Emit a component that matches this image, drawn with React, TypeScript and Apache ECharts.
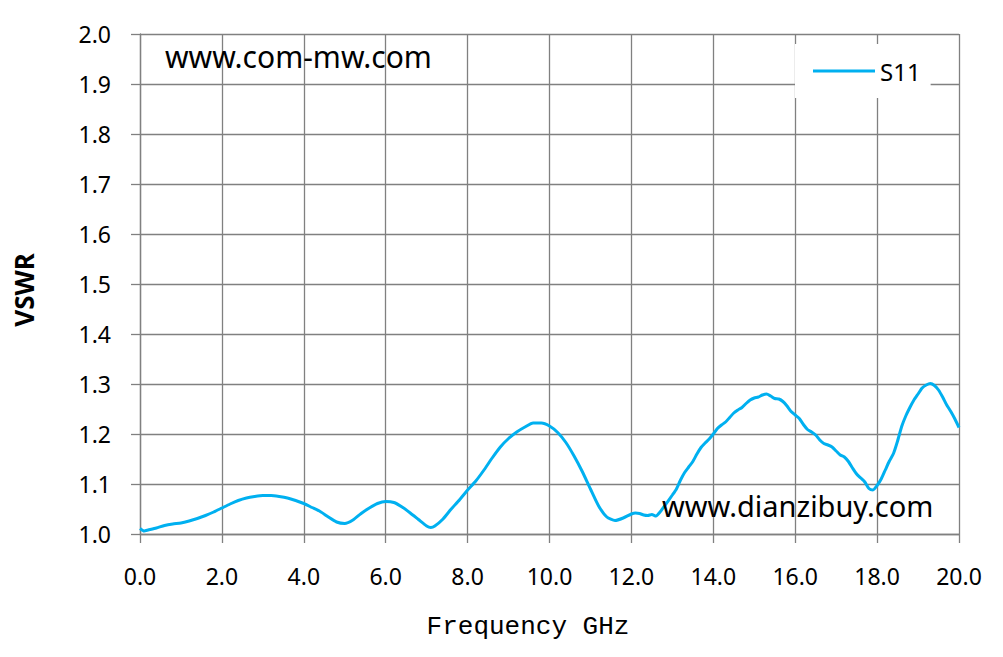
import React, { useEffect, useRef } from "react";
import * as echarts from "echarts";

const freqGHz: number[] = [
  0.0, 0.1, 0.2, 0.4, 0.6, 0.8, 1.0, 1.2, 1.4, 1.6, 1.8, 2.0, 2.2, 2.4, 2.6, 2.8,
  3.0, 3.2, 3.4, 3.6, 3.8, 4.0, 4.2, 4.4, 4.6, 4.8, 5.0, 5.2, 5.4, 5.6, 5.8, 6.0,
  6.2, 6.4, 6.6, 6.8, 7.0, 7.1, 7.2, 7.4, 7.6, 7.8, 8.0, 8.2, 8.4, 8.6, 8.8, 9.0,
  9.2, 9.4, 9.6, 9.8, 10.0, 10.2, 10.4, 10.6, 10.8, 11.0, 11.2, 11.4, 11.6, 11.8,
  12.0, 12.1, 12.2, 12.3, 12.4, 12.5, 12.6, 12.7, 12.8, 13.0, 13.1, 13.2, 13.3,
  13.4, 13.5, 13.6, 13.7, 13.8, 13.9, 14.0, 14.1, 14.2, 14.3, 14.4, 14.5, 14.6,
  14.7, 14.8, 14.9, 15.0, 15.1, 15.2, 15.3, 15.4, 15.5, 15.6, 15.7, 15.8, 15.9,
  16.0, 16.1, 16.2, 16.3, 16.4, 16.5, 16.6, 16.7, 16.8, 16.9, 17.0, 17.1, 17.2,
  17.3, 17.4, 17.5, 17.6, 17.7, 17.8, 17.9, 18.0, 18.1, 18.2, 18.3, 18.4, 18.5,
  18.6, 18.7, 18.8, 18.9, 19.0, 19.1, 19.2, 19.3, 19.4, 19.5, 19.6, 19.7, 19.8,
  19.9, 20.0,
];

const s11: number[] = [
  1.011, 1.006, 1.008, 1.012, 1.017, 1.020, 1.022, 1.026, 1.031, 1.037, 1.044,
  1.052, 1.060, 1.067, 1.072, 1.075, 1.077, 1.077, 1.075, 1.072, 1.067, 1.061,
  1.053, 1.045, 1.034, 1.024, 1.021, 1.028, 1.041, 1.052, 1.061, 1.065, 1.063,
  1.054, 1.042, 1.029, 1.016, 1.013, 1.016, 1.030, 1.050, 1.068, 1.088, 1.106,
  1.128, 1.152, 1.174, 1.191, 1.204, 1.214, 1.222, 1.222, 1.216, 1.203, 1.183,
  1.156, 1.125, 1.090, 1.056, 1.034, 1.027, 1.032,
  1.040, 1.042, 1.041, 1.038, 1.037, 1.039, 1.036, 1.044, 1.055, 1.078, 1.090,
  1.108, 1.123, 1.134, 1.145, 1.160, 1.173, 1.182, 1.190, 1.200, 1.211, 1.218,
  1.224, 1.233, 1.242, 1.248, 1.253, 1.261, 1.268, 1.272, 1.274, 1.278, 1.280,
  1.276, 1.271, 1.270, 1.265, 1.256, 1.245, 1.238, 1.231, 1.219, 1.209, 1.204,
  1.198, 1.188, 1.181, 1.178, 1.174, 1.166, 1.158, 1.154, 1.145, 1.132, 1.120,
  1.112, 1.104, 1.091, 1.088, 1.097, 1.110, 1.128, 1.146, 1.161, 1.186, 1.215,
  1.236, 1.253, 1.268, 1.280, 1.292, 1.298, 1.301, 1.297, 1.288, 1.274, 1.258,
  1.245, 1.230, 1.213,
];

const seriesName = "S11";
const xAxisTitle = "Frequency GHz";
const yAxisTitle = "VSWR";
const watermarkTop = "www.com-mw.com";
const watermarkBottom = "www.dianzibuy.com";

const GRID = "#808080";

export default function App() {
  const ref = useRef<HTMLDivElement>(null);

  useEffect(() => {
    if (!ref.current) return;
    const chart = echarts.init(ref.current, undefined, { renderer: "svg" });
    const data = freqGHz.map((f, i) => [f, s11[i]]);
    const lineStyle = { color: GRID, width: 1.3 };
    chart.setOption({
      animation: false,
      backgroundColor: "#ffffff",
      grid: { left: 140, top: 34, width: 819, height: 500, containLabel: false },
      xAxis: {
        type: "value",
        min: 0,
        max: 20,
        interval: 2,
        axisLine: { show: true, onZero: false, lineStyle },
        axisTick: { show: true, length: 9, lineStyle },
        splitLine: { show: true, lineStyle },
        axisLabel: {
          margin: 30,
          fontSize: 23,
          color: "#000",
          fontFamily: "Noto Sans",
          formatter: (v: number) => v.toFixed(1),
        },
      },
      yAxis: {
        type: "value",
        min: 1.0,
        max: 2.0,
        interval: 0.1,
        axisLine: { show: true, onZero: false, lineStyle },
        axisTick: { show: true, length: 9, lineStyle },
        splitLine: { show: true, lineStyle },
        axisLabel: {
          margin: 29,
          fontSize: 23,
          color: "#000",
          fontFamily: "Noto Sans",
          formatter: (v: number) => v.toFixed(1),
        },
      },
      legend: {
        show: true,
        left: 795,
        top: 44,
        padding: [15, 10, 15, 18],
        backgroundColor: "#ffffff",
        itemWidth: 62,
        itemHeight: 14,
        textStyle: { fontSize: 24, color: "#000", fontFamily: "Noto Sans" },
        data: [{ name: seriesName, icon: "path://M0,5.5 L62,5.5 L62,8.5 L0,8.5 Z" }],
      },
      graphic: [
        {
          type: "text",
          left: 165,
          top: 41,
          style: {
            text: watermarkTop,
            fontSize: 30,
            fontFamily: "Noto Sans",
            fill: "#000",
          },
          z: 100,
        },
        {
          type: "text",
          left: 662,
          top: 491,
          style: {
            text: watermarkBottom,
            fontSize: 29,
            fontFamily: "Noto Sans",
            fill: "#000",
          },
          z: 100,
        },
        {
          type: "text",
          x: 24,
          y: 290,
          rotation: Math.PI / 2,
          style: {
            text: yAxisTitle,
            fontSize: 26,
            fontWeight: "bold",
            fontFamily: "Noto Sans",
            fill: "#000",
            align: "center",
            verticalAlign: "middle",
          },
        },
        {
          type: "text",
          x: 528,
          y: 627,
          style: {
            text: xAxisTitle,
            fontSize: 26,
            fontFamily: "Liberation Mono",
            fill: "#000",
            align: "center",
            verticalAlign: "middle",
          },
        },
      ],
      series: [
        {
          name: seriesName,
          type: "line",
          data,
          showSymbol: false,
          symbol: "none",
          smooth: 0.2,
          lineStyle: { color: "#00b0f0", width: 3 },
          itemStyle: { color: "#00b0f0" },
          z: 5,
        },
      ],
    });
    return () => chart.dispose();
  }, []);

  return (
    <div
      ref={ref}
      style={{ position: "fixed", left: 0, top: 0, width: 1003, height: 657 }}
    />
  );
}
